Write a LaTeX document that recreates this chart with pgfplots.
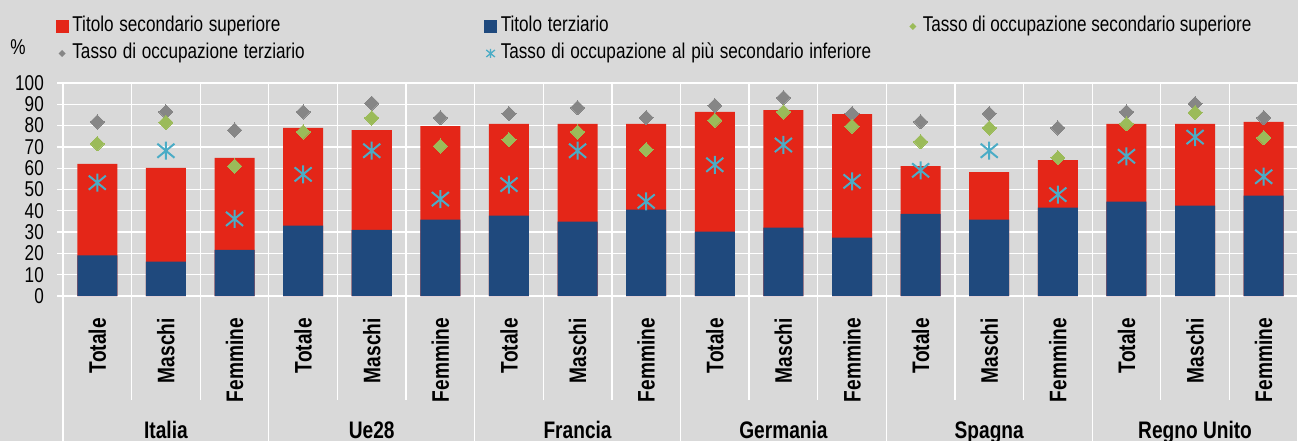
\documentclass[border=0pt]{standalone}
\usepackage{pgfplots}
\pgfplotsset{compat=1.18}
\usepackage{fontspec}
\setmainfont{Liberation Sans}
\usepackage{graphicx}
\definecolor{bgc}{HTML}{D9D9D9}
\definecolor{redc}{HTML}{E42618}
\definecolor{bluec}{HTML}{1F497D}
\definecolor{greenc}{HTML}{9BBB59}
\definecolor{greyc}{HTML}{868686}
\definecolor{cyanc}{HTML}{4BACC6}
\newcommand{\nt}[1]{\scalebox{0.8}[1]{#1}}
\newcommand{\nb}[1]{\scalebox{0.8}[1]{\bfseries #1}}
\pgfdeclareplotmark{xstar}{%
  \pgfpathmoveto{\pgfqpoint{0pt}{\pgfplotmarksize}}%
  \pgfpathlineto{\pgfqpoint{0pt}{-\pgfplotmarksize}}%
  \pgfpathmoveto{\pgfqpoint{-0.95\pgfplotmarksize}{0.78\pgfplotmarksize}}%
  \pgfpathlineto{\pgfqpoint{0.95\pgfplotmarksize}{-0.78\pgfplotmarksize}}%
  \pgfpathmoveto{\pgfqpoint{-0.95\pgfplotmarksize}{-0.78\pgfplotmarksize}}%
  \pgfpathlineto{\pgfqpoint{0.95\pgfplotmarksize}{0.78\pgfplotmarksize}}%
  \pgfusepathqstroke}

% x tot(=red+blue) blue green grey star
\pgfplotstableread{
x tot blue green grey star
0 62.0 19.1 71.5 81.7 53.2
1 60.1 16.1 81.5 86.4 68.2
2 64.8 21.7 61.0 77.9 36.2
3 78.9 33.0 77.0 86.4 57.1
4 77.9 31.1 83.6 90.5 68.2
5 79.8 35.8 70.4 83.7 45.5
6 80.8 37.7 73.4 85.6 52.3
7 80.8 34.9 77.0 88.4 68.2
8 80.8 40.5 68.7 83.7 44.4
9 86.4 30.2 82.5 89.4 61.6
10 87.3 32.1 86.4 93.1 70.9
11 85.4 27.4 79.7 85.6 53.8
12 61.0 38.6 72.4 81.8 59.0
13 58.2 35.8 78.9 85.6 68.2
14 63.8 41.5 64.9 78.9 47.6
15 80.8 44.3 80.8 86.4 65.6
16 80.8 42.4 86.1 90.3 74.6
17 81.7 47.1 74.3 83.7 56.0
}\datatab

\begin{document}
\begin{tikzpicture}
\fill[bgc] (0,0) rectangle (1298bp,441bp);
\begin{axis}[
  at={(63bp,145bp)}, anchor=south west,
  scale only axis, width=1235bp, height=213bp,
  xmin=-0.5, xmax=17.5, ymin=0, ymax=100,
  clip=false,
  ytick={0,10,...,100},
  yticklabel={\nt{\pgfmathprintnumber{\tick}}},
  /pgf/number format/assume math mode=true,
  xtick={0,...,17},
  xticklabels={\nb{Totale},\nb{Maschi},\nb{Femmine},\nb{Totale},\nb{Maschi},\nb{Femmine},\nb{Totale},\nb{Maschi},\nb{Femmine},\nb{Totale},\nb{Maschi},\nb{Femmine},\nb{Totale},\nb{Maschi},\nb{Femmine},\nb{Totale},\nb{Maschi},\nb{Femmine}},
  minor xtick={-0.5,0.5,...,17.5},
  xminorgrids, ymajorgrids,
  grid style={white, line width=1.3bp},
  minor grid style={white, line width=1.3bp},
  axis lines*=left,
  axis line style={white, line width=1.3bp, -},
  tick align=outside,
  major tick length=6bp,
  minor tick length=0pt,
  xtick style={draw=none},
  ytick style={white, line width=1.3bp},
  yticklabel style={font=\fontsize{21.5}{24}\selectfont, inner sep=0pt, anchor=east},
  yticklabel shift=13bp,
  xticklabel style={font=\fontsize{24}{26}\selectfont, rotate=90, anchor=east, inner sep=0pt},
  xticklabel shift=16bp,
  legend columns=3,
  legend cell align=left,
  legend style={draw=none, fill=none, inner sep=0pt, outer sep=0pt,
    at={(-0.00567,1.3099)}, anchor=north west,
    font=\fontsize{21.5}{24}\selectfont,
    nodes={inner sep=0pt, text height=15bp, text depth=4bp},
    row sep=8bp,
    /tikz/every odd column/.append style={column sep=4bp},
    /tikz/column 2/.append style={text width=412bp},
    /tikz/column 4/.append style={text width=406bp}},
]
\addplot[ybar, bar width=40bp, bar shift=0pt, fill=redc, draw=none, forget plot] table[x=x, y=tot] {\datatab};
\addplot[ybar, bar width=40bp, bar shift=0pt, fill=bluec, draw=none, forget plot] table[x=x, y=blue] {\datatab};
\addplot[only marks, color=greyc, mark=square*, mark size=5bp, mark options={rotate=45, fill=greyc, draw=greyc, line width=0pt}, forget plot] table[x=x, y=grey] {\datatab};
\addplot[only marks, color=greenc, mark=square*, mark size=5bp, mark options={rotate=45, fill=greenc, draw=greenc, line width=0pt}, forget plot] table[x=x, y=green] {\datatab};
\addplot[only marks, color=cyanc, mark=xstar, mark size=9bp, mark options={draw=cyanc, line width=2bp}, forget plot] table[x=x, y=star] {\datatab};

\addlegendimage{legend image code/.code={\fill[redc] (0bp,-6bp) rectangle (12bp,6bp);}}
\addlegendentry{\nt{Titolo secondario superiore}}
\addlegendimage{legend image code/.code={\fill[bluec] (0bp,-6bp) rectangle (12bp,6bp);}}
\addlegendentry{\nt{Titolo terziario}}
\addlegendimage{legend image code/.code={\path[draw=none, fill=none] (0bp,-6bp) rectangle (12bp,6bp); \fill[greenc, draw=none] (6bp,-3.5bp) -- (9.5bp,0bp) -- (6bp,3.5bp) -- (2.5bp,0bp) -- cycle;}}
\addlegendentry{\nt{Tasso di occupazione secondario superiore}}
\addlegendimage{legend image code/.code={\path[draw=none, fill=none] (0bp,-6bp) rectangle (12bp,6bp); \fill[greyc, draw=none] (6bp,-3.5bp) -- (9.5bp,0bp) -- (6bp,3.5bp) -- (2.5bp,0bp) -- cycle;}}
\addlegendentry{\nt{Tasso di occupazione terziario}}
\addlegendimage{legend image code/.code={\path[draw=none, fill=none] (0bp,-6bp) rectangle (12bp,6bp); \draw[cyanc, line width=1.3bp] plot[mark=xstar, mark size=4.5bp] coordinates {(6bp,0bp)};}}
\addlegendentry{\nt{Tasso di occupazione al più secondario inferiore}}

\pgfplotsinvokeforeach{0.5,1.5,3.5,4.5,6.5,7.5,9.5,10.5,12.5,13.5,15.5,16.5}{
  \draw[white, line width=1.3bp] (axis cs:#1,0) -- ++(0bp,-104bp);
}
\pgfplotsinvokeforeach{-0.5,2.5,5.5,8.5,11.5,14.5,17.5}{
  \draw[white, line width=1.3bp] (axis cs:#1,0) -- ++(0bp,-150bp);
}
\node[font=\fontsize{24}{26}\selectfont, anchor=base, yshift=-142bp] at (axis cs:1,0) {\nb{Italia}};
\node[font=\fontsize{24}{26}\selectfont, anchor=base, yshift=-142bp] at (axis cs:4,0) {\nb{Ue28}};
\node[font=\fontsize{24}{26}\selectfont, anchor=base, yshift=-142bp] at (axis cs:7,0) {\nb{Francia}};
\node[font=\fontsize{24}{26}\selectfont, anchor=base, yshift=-142bp] at (axis cs:10,0) {\nb{Germania}};
\node[font=\fontsize{24}{26}\selectfont, anchor=base, yshift=-142bp] at (axis cs:13,0) {\nb{Spagna}};
\node[font=\fontsize{24}{26}\selectfont, anchor=base, yshift=-142bp] at (axis cs:16,0) {\nb{Regno Unito}};
\node[font=\fontsize{21.5}{24}\selectfont, inner sep=0pt] at (rel axis cs:-0.0364,1.169) {\nt{\%}};
\end{axis}
\pgfresetboundingbox
\useasboundingbox (0,0) rectangle (1298bp,441bp);
\end{tikzpicture}
\end{document}
